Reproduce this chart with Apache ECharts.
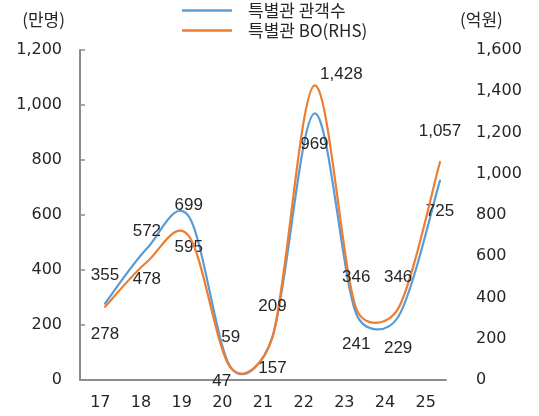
<!DOCTYPE html>
<html>
<head>
<meta charset="utf-8">
<script src="https://cdn.jsdelivr.net/npm/echarts@6/dist/echarts.min.js"></script>
<style>
  html, body { margin: 0; padding: 0; background: #fff; }
  #chart { width: 539px; height: 416px; }
</style>
</head>
<body>
<div id="chart"></div>
<script>
// Years (20xx) on the category axis
const years = ['17', '18', '19', '20', '21', '22', '23', '24', '25'];
// Premium-screen audience, 10k persons (left axis)
const audience = [278, 478, 595, 47, 157, 969, 241, 229, 725];
// Premium-screen box office, 100M KRW (right axis)
const boxOffice = [355, 572, 699, 59, 209, 1428, 346, 346, 1057];
// Axis ranges
const leftMax = 1200, rightMax = 1600, tickStep = 200;

const seriesNames = ['특별관 관객수', '특별관 BO(RHS)'];
const blue = '#5B9BD5', orange = '#ED7D31';
const axisGray = '#8c8c8c';
const txt = '#262626';
const numFont = 'DejaVu Sans';
const labelFont = 'Liberation Sans';
const fmt = v => Number(v).toLocaleString('en-US');

// Smoothed polyline through pixel points: cubic Bezier segments with
// Catmull-Rom style tangents (tension 1/6), each control arm limited
// to half of its segment length.
function smoothPath(pts) {
  const dist = (a, b) => Math.hypot(b[0] - a[0], b[1] - a[1]);
  let d = 'M' + pts[0][0] + ',' + pts[0][1];
  for (let i = 0; i < pts.length - 1; i++) {
    const p0 = pts[i - 1] || pts[i], p1 = pts[i], p2 = pts[i + 1], p3 = pts[i + 2] || pts[i + 1];
    const d02 = dist(p0, p2), d12 = dist(p1, p2), d13 = dist(p1, p3);
    const f0 = d02 > 0 ? Math.min(1 / 6, d12 / (2 * d02)) : 0;
    const f1 = d13 > 0 ? Math.min(1 / 6, d12 / (2 * d13)) : 0;
    const c1 = [p1[0] + f0 * (p2[0] - p0[0]), p1[1] + f0 * (p2[1] - p0[1])];
    const c2 = [p2[0] - f1 * (p3[0] - p1[0]), p2[1] - f1 * (p3[1] - p1[1])];
    d += ' C' + c1.join(',') + ' ' + c2.join(',') + ' ' + p2.join(',');
  }
  return d;
}

// Data labels sit this far above (-) or below (+) their point
const labelShift = 31;

function curveSeries(name, values, color, yAxisIndex, side, tweaks, z) {
  return {
    name: name, type: 'custom', coordinateSystem: 'cartesian2d',
    xAxisIndex: 1, yAxisIndex: yAxisIndex, z: z,
    itemStyle: { color: color },
    data: values.map((v, i) => [i, v]),
    renderItem: function (params, api) {
      const i = params.dataIndex;
      const pt = api.coord([i, values[i]]);
      const tw = tweaks[years[i]] || [0, 0];
      const children = [{
        type: 'text', z2: 10,
        x: pt[0] + tw[0], y: pt[1] + side * labelShift + tw[1],
        style: {
          text: fmt(values[i]), fill: txt, fontFamily: labelFont, fontSize: 17,
          align: 'center', verticalAlign: 'middle'
        }
      }];
      if (i === 0) {
        const pts = values.map((v, k) => api.coord([k, v]));
        children.push({
          type: 'path', z2: 1,
          shape: { pathData: smoothPath(pts) },
          style: { fill: 'none', stroke: color, lineWidth: 2.2, lineJoin: 'round', lineCap: 'round' }
        });
      }
      return { type: 'group', children: children };
    }
  };
}

const chart = echarts.init(document.getElementById('chart'));

chart.setOption({
  animation: false,
  backgroundColor: '#fff',
  legend: {
    orient: 'vertical',
    left: 182,
    top: 1,
    padding: 0,
    icon: 'rect',
    itemWidth: 50,
    itemHeight: 2.5,
    itemGap: 1,
    textStyle: { fontFamily: 'Noto Sans CJK KR', fontSize: 17, lineHeight: 19, color: txt, padding: [0, 0, 0, 11] },
    data: seriesNames
  },
  grid: [
    { left: 80, right: 93, top: 50, bottom: 36 },
    { left: 105, right: 99, top: 50, bottom: 36 }
  ],
  xAxis: [
    {
      type: 'category', gridIndex: 0, data: years, boundaryGap: true,
      axisLine: { lineStyle: { color: axisGray, width: 2 } },
      axisTick: { inside: true, length: 5, lineStyle: { color: axisGray, width: 1.5 } },
      axisLabel: { color: txt, fontFamily: numFont, fontSize: 16, margin: 15 }
    },
    { type: 'category', gridIndex: 1, data: years, boundaryGap: false, show: false }
  ],
  yAxis: [
    {
      type: 'value', gridIndex: 0, position: 'left', min: 0, max: leftMax, interval: tickStep,
      name: '(만명)', nameLocation: 'end', nameGap: 30,
      nameTextStyle: { fontFamily: 'Noto Sans CJK KR', fontSize: 17, color: txt, align: 'right', verticalAlign: 'middle', padding: [0, 15, 0, 0] },
      axisLine: { show: true, lineStyle: { color: axisGray, width: 2 } },
      axisTick: { show: true, inside: true, length: 5, lineStyle: { color: axisGray, width: 1.5 } },
      axisLabel: { color: txt, fontFamily: numFont, fontSize: 16, margin: 18, formatter: fmt },
      splitLine: { show: false }
    },
    {
      type: 'value', gridIndex: 0, position: 'right', min: 0, max: rightMax, interval: tickStep,
      name: '(억원)', nameLocation: 'end', nameGap: 30,
      nameTextStyle: { fontFamily: 'Noto Sans CJK KR', fontSize: 17, color: txt, align: 'left', verticalAlign: 'middle', padding: [0, 0, 0, 14] },
      axisLine: { show: false },
      axisTick: { show: false },
      axisLabel: { color: txt, fontFamily: numFont, fontSize: 16, margin: 30, formatter: fmt },
      splitLine: { show: false }
    },
    { type: 'value', gridIndex: 1, min: 0, max: leftMax, show: false, splitLine: { show: false } },
    { type: 'value', gridIndex: 1, min: 0, max: rightMax, show: false, splitLine: { show: false } }
  ],
  series: [
    // audience labels below the curve; the 2020 label nudged in toward the axis
    curveSeries(seriesNames[0], audience, blue, 2, 1, { '20': [-9, -17] }, 2),
    // box-office labels above the curve; the 2022 peak label set off to the right
    curveSeries(seriesNames[1], boxOffice, orange, 3, -1, { '22': [27, 20] }, 3)
  ]
});
</script>
</body>
</html>
